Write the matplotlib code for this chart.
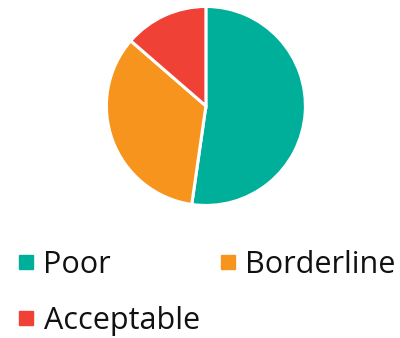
import matplotlib
matplotlib.use('Agg')
import matplotlib.pyplot as plt
from matplotlib.lines import Line2D

categories = ["Poor", "Borderline", "Acceptable"]
counts = [23, 15, 6]
colours = ["#00af9a", "#f7941d", "#ef4136"]

plt.rcParams['font.family'] = ['Open Sans', 'DejaVu Sans']

fig = plt.figure(figsize=(4.0, 3.38), dpi=100)
ax = fig.add_axes([0.266, 0.392, 0.4975, 0.589])
ax.pie(counts, colors=colours, startangle=90, counterclock=False,
       wedgeprops=dict(edgecolor='white', linewidth=2.2))
ax.set_xlim(-1, 1)
ax.set_ylim(-1, 1)
ax.set_aspect('equal')
ax.axis('off')

# legend fills row by row: Poor, Borderline / Acceptable
handles = [Line2D([], [], marker='s', ls='none', color=c, markersize=10)
           for c in colours]
order = [0, 2, 1]
leg = fig.legend([handles[i] for i in order], [categories[i] for i in order],
                 loc='upper left', bbox_to_anchor=(0.04, 0.26),
                 ncol=2, frameon=False, prop=dict(size=22),
                 handlelength=0.65, handletextpad=0.25, columnspacing=0.6,
                 labelspacing=0.85, borderpad=0, borderaxespad=0)
for t in leg.get_texts():
    t.set_color('#111111')

fig.savefig('out.png', dpi=100)
